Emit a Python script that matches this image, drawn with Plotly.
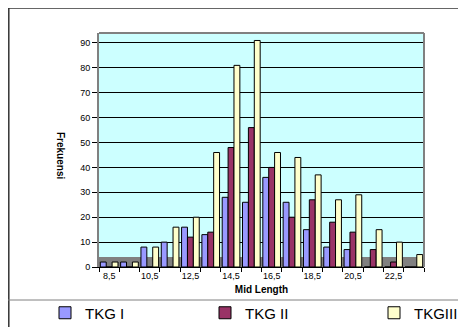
import plotly.graph_objects as go

categories = ["8,5", "9,5", "10,5", "11,5", "12,5", "13,5", "14,5", "15,5",
              "16,5", "17,5", "18,5", "19,5", "20,5", "21,5", "22,5", "23,5"]
tkg1 = [2, 2, 8, 10, 16, 13, 28, 26, 36, 26, 15, 8, 7, 0, 0, 0]
tkg2 = [0, 0, 0, 0, 12, 14, 48, 56, 40, 20, 27, 18, 14, 7, 2, 0]
tkg3 = [2, 2, 8, 16, 20, 46, 81, 91, 46, 44, 37, 27, 29, 15, 10, 5]
y_ticks = [0, 10, 20, 30, 40, 50, 60, 70, 80, 90]
series_names = ["TKG I", "TKG II", "TKGIII"]
series_colors = ["#9999FF", "#993366", "#FFFFCC"]

FONT = "Liberation Sans, Arial, sans-serif"
OFF = 8  # page body margin offset
W, H = 466 - OFF, 327 - OFF
PLOT_LEFT, PLOT_RIGHT, PLOT_TOP, PLOT_BOTTOM = 99, 424, 33, 267  # page pixels
L = PLOT_LEFT - OFF
T = PLOT_TOP - OFF
R = W - (PLOT_RIGHT - OFF)
B = H - (PLOT_BOTTOM - OFF)
PW, PH = W - L - R, H - T - B


def px_x(p):
    return (p - PLOT_LEFT) / PW


def px_y(p):
    return (PLOT_BOTTOM - p) / PH


legend_ids = ["legend", "legend2", "legend3"]
legend_left_px = [45, 205, 374]

fig = go.Figure()
for name, vals, col, lid in zip(series_names, [tkg1, tkg2, tkg3], series_colors, legend_ids):
    fig.add_trace(go.Bar(x=categories, y=vals, name=name, legend=lid,
                         marker=dict(color=col, line=dict(color="#000000", width=1))))

shapes = [
    # gray floor
    dict(type="rect", xref="paper", yref="paper", x0=0, x1=1, y0=0, y1=10 / PH,
         fillcolor="#808080", line=dict(width=0), layer="between"),
    # plot area border (top/right)
    dict(type="line", xref="paper", yref="paper", x0=0, x1=1, y0=1, y1=1,
         line=dict(color="#808080", width=2)),
    dict(type="line", xref="paper", yref="paper", x0=1, x1=1, y0=0, y1=1,
         line=dict(color="#808080", width=2)),
    # outer chart border
    dict(type="line", xref="paper", yref="paper", x0=px_x(8), x1=px_x(470),
         y0=px_y(8), y1=px_y(8), line=dict(color="#333333", width=1.5)),
    dict(type="line", xref="paper", yref="paper", x0=px_x(8.8), x1=px_x(8.8),
         y0=px_y(8), y1=px_y(330), line=dict(color="#333333", width=1.5)),
    # legend separator
    dict(type="line", xref="paper", yref="paper", x0=px_x(8), x1=px_x(470),
         y0=px_y(300), y1=px_y(300), line=dict(color="#808080", width=1)),
]

legend_common = dict(orientation="h", xanchor="left", yanchor="middle",
                     y=px_y(313), font=dict(size=15, family=FONT),
                     bgcolor="rgba(0,0,0,0)", itemwidth=30)

layout_legends = {}
for lid, lx in zip(legend_ids, legend_left_px):
    layout_legends[lid] = dict(legend_common, x=px_x(lx))

fig.update_layout(
    width=W, height=H,
    margin=dict(l=L, r=R, t=T, b=B, autoexpand=False),
    paper_bgcolor="white",
    plot_bgcolor="#CCFFFF",
    font=dict(family=FONT, color="#000000"),
    barmode="group",
    bargap=0.13,
    bargroupgap=0,
    showlegend=True,
    shapes=shapes,
    xaxis=dict(type="category", categoryorder="array", categoryarray=categories,
               tickson="boundaries", ticks="outside", ticklen=4, tickcolor="#000000",
               ticklabelstep=2, tickangle=0, showgrid=False, showline=True,
               linecolor="#000000", automargin=False,
               tickfont=dict(size=9, family=FONT), range=[-0.5, len(categories) - 0.5],
               title=dict(text="<b>Mid Length</b>", font=dict(size=10, family=FONT),
                          standoff=6)),
    yaxis=dict(range=[0, 94], tickvals=y_ticks, ticks="outside", ticklen=5,
               tickcolor="#000000", showgrid=True, gridcolor="#000000", gridwidth=1,
               showline=True, linecolor="#808080", linewidth=2, zeroline=False,
               automargin=False, tickfont=dict(size=9, family=FONT)),
    annotations=[dict(text="<b>Frekuensi</b>", textangle=90, xref="paper", yref="paper",
                      x=px_x(61), y=px_y(155), xanchor="center", yanchor="middle",
                      showarrow=False, font=dict(size=10, family=FONT))],
    **layout_legends,
)

fig.write_html("out.html")
